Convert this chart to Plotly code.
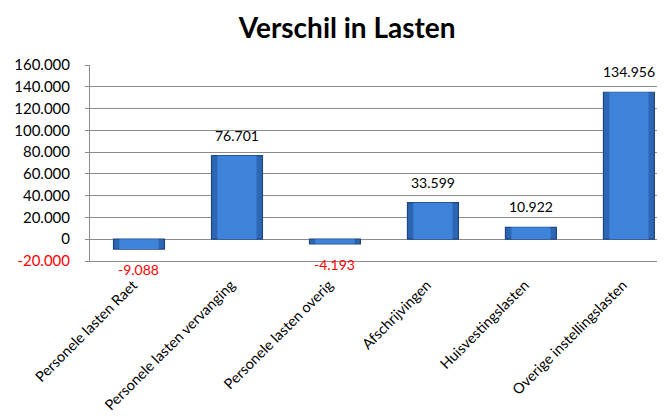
import plotly.graph_objects as go

categories = ["Personele lasten Raet", "Personele lasten vervanging", "Personele lasten overig",
              "Afschrijvingen", "Huisvestingslasten", "Overige instellingslasten"]
values = [-9088, 76701, -4193, 33599, 10922, 134956]
y_ticks = [-20000, 0, 20000, 40000, 60000, 80000, 100000, 120000, 140000, 160000]
y_tick_labels = ['<span style="color:#FF0000">-20.000</span>', "0", "20.000", "40.000", "60.000",
                 "80.000", "100.000", "120.000", "140.000", "160.000"]

FONT = "Lato, Carlito, Liberation Sans, sans-serif"


def fmt(v):
    return f"{v:,.0f}".replace(",", ".")


fig = go.Figure()
# outer (darker) body of the bars
fig.add_trace(go.Bar(
    x=categories, y=values, width=0.52,
    marker=dict(color="#2C66B4", line=dict(color="#1E4782", width=1.2)),
    hoverinfo="skip",
))
# lighter inner face for the bevelled look
fig.add_trace(go.Bar(
    x=categories, y=values, width=0.40,
    marker=dict(color="#3E82DA", line=dict(width=0)),
    hoverinfo="skip",
))

# data labels
for c, v in zip(categories, values):
    neg = v < 0
    fig.add_annotation(
        x=c, y=v, text=fmt(v), showarrow=False,
        yanchor="top" if neg else "bottom", yshift=-10 if neg else 10,
        font=dict(family=FONT, size=14, color="#FF0000" if neg else "#000000"),
    )

grid = "#8C8C8C"
fig.update_layout(
    width=665, height=417,
    margin=dict(l=82, r=0, t=57, b=164),
    paper_bgcolor="white", plot_bgcolor="white",
    separators=",.",
    showlegend=False,
    barmode="overlay",
    font=dict(family=FONT, size=14, color="#000000"),
    title=dict(text="<b>Verschil in Lasten</b>", x=0.51, xanchor="center", y=0.952, yanchor="middle",
               font=dict(family=FONT, size=28, color="#000000")),
    xaxis=dict(range=[-0.5, 5.45], tickangle=-45, showgrid=False, ticks="",
               showline=True, linecolor=grid, linewidth=1, tickfont=dict(size=14.5, family=FONT),
               ticklabelstandoff=9, ticklabelshift=-6),
    xaxis2=dict(overlaying="x", anchor="free", position=20000 / 180000, range=[-0.5, 5.45],
                tickmode="array", tickvals=[0.5, 1.5, 2.5, 3.5, 4.5], ticks="outside", ticklen=4,
                tickcolor=grid, showticklabels=False, showgrid=False, showline=True,
                linecolor=grid, linewidth=1, zeroline=False, side="bottom"),
    yaxis=dict(range=[-20000, 160000], tickmode="array", tickvals=y_ticks, ticktext=y_tick_labels,
               showgrid=True, gridcolor=grid, gridwidth=1, zeroline=False,
               showline=True, linecolor=grid, linewidth=1, ticks="outside", ticklen=4, tickcolor=grid,
               tickfont=dict(size=15, family=FONT), ticklabelstandoff=12),
)

fig.write_html("out.html")
